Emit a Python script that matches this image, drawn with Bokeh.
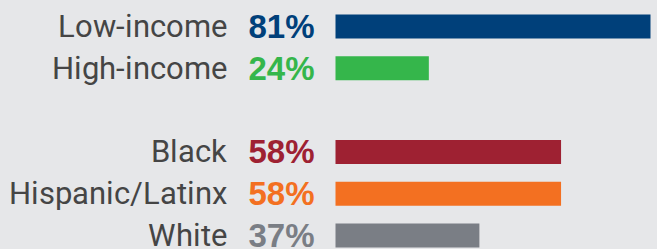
from bokeh.plotting import figure
from bokeh.models import ColumnDataSource, Range1d
from bokeh.core.properties import value
from bokeh.embed import file_html
from bokeh.resources import INLINE

# Data
groups = [
    ["Low-income", "High-income"],
    ["Black", "Hispanic/Latinx", "White"],
]
values = [81, 24, 58, 58, 37]
pct_labels = ["81%", "24%", "58%", "58%", "37%"]
colors = ["#00407a", "#35b64b", "#9e2132", "#f37021", "#7a7e85"]

BG = "#e6e7e9"

# row positions derived from group structure (one blank row between groups)
cats, rows = [], []
r = 0
for g in groups:
    for c in g:
        cats.append(c)
        rows.append(r)
        r += 1
    r += 1

src = ColumnDataSource(dict(cat=cats, row=rows, val=values, pct=pct_labels,
                            color=colors, zero=[0] * len(values)))

W, H = 657, 249
unit = 41.8          # px per row
pxpct = 3.889        # px per percent
x0_px = 335          # x=0 in frame px
top_px = 26          # center of first row in frame px

p = figure(width=W, height=H, output_backend="svg", toolbar_location=None,
           x_range=Range1d(-x0_px / pxpct, (W - x0_px) / pxpct),
           y_range=Range1d((H - top_px) / unit, -top_px / unit),
           min_border=0, background_fill_color=BG, border_fill_color=BG,
           outline_line_color=None)
p.axis.visible = False
p.grid.visible = False

p.hbar(y="row", left=0, right="val", height=24 / unit, color="color",
       line_color=None, source=src)

p.text(x="zero", y="row", text="pct", text_color="color",
       text_font=value("Liberation Sans"), text_font_style="bold",
       text_font_size="33px", text_align="right", text_baseline="alphabetic",
       x_offset=-21, y_offset=0, source=src)

p.text(x="zero", y="row", text="cat", text_color="#454545",
       text_font=value("LightFace, Roboto"),
       text_font_size="31px", text_align="right", text_baseline="alphabetic",
       x_offset=-109, y_offset=0, source=src)

css = """<style>
@font-face { font-family: "LightFace";
  src: local("Roboto Light"), local("Roboto-Light"), local("Lato Light"),
       local("Lato-Light"), local("Open Sans Light"), local("OpenSans-Light"); }
body { margin: 0; background: %s; }
</style>""" % BG

html = file_html(p, INLINE)
html = html.replace("</head>", css + "</head>", 1)
open("out.html", "w").write(html)
